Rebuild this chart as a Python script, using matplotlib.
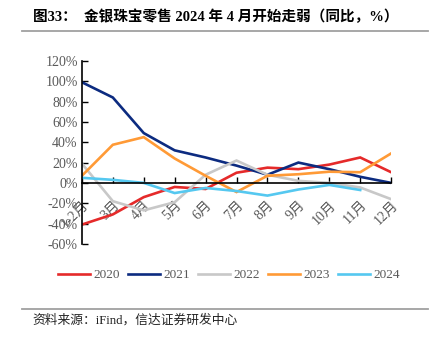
import matplotlib.pyplot as plt
from matplotlib.lines import Line2D

plt.rcParams['font.family'] = ['Liberation Serif', 'Noto Sans CJK SC']
plt.rcParams['axes.unicode_minus'] = False

# 金银珠宝零售额同比（%）
months = ['1-2月', '3月', '4月', '5月', '6月', '7月', '8月', '9月', '10月', '11月', '12月']
y2020 = [-41, -31, -14, -4, -6, 10, 15, 13.5, 18, 25, 10.5]
y2021 = [99, 84, 49, 32, 25, 17, 8, 20, 13.5, 6, 0]
y2022 = [19, -18, -27, -19, 8, 22, 8, 2, 0, -4.5, -16]
y2023 = [7, 37.5, 45, 24, 7, -9, 7, 8.5, 11, 10.5, 29]
y2024 = [5, 3, 0, -10, -5, -8, -12.5, -6.5, -2, -7]

series = [
    ('2020', y2020, '#E52A2A'),
    ('2021', y2021, '#0C2B80'),
    ('2022', y2022, '#C8C8C8'),
    ('2023', y2023, '#FF9A36'),
    ('2024', y2024, '#55C8F0'),
]

fig = plt.figure(figsize=(4.38, 3.44), dpi=100)
ax = fig.add_axes([0.187, 0.291, 0.706, 0.532])

for name, vals, color in series:
    ax.plot(range(len(vals)), vals, color=color, lw=1.9, label=name,
            solid_joinstyle='miter')

ax.set_xlim(0, len(months) - 1)
ax.set_ylim(-60, 120)
ax.set_yticks(range(-60, 121, 20))
ax.set_yticklabels([f'{v}%' for v in range(-60, 121, 20)])
ax.set_xticks(range(len(months)))
ax.set_xticklabels(months)

ax.spines['top'].set_visible(False)
ax.spines['right'].set_visible(False)
ax.spines['bottom'].set_position(('data', 0))
ax.spines['left'].set_linewidth(1.2)
ax.spines['bottom'].set_linewidth(1.2)
ax.tick_params(axis='y', direction='in', length=4, width=1, labelsize=10,
               labelcolor='#595959', pad=3)
ax.tick_params(axis='x', direction='in', length=4, width=1, labelsize=10,
               labelcolor='#595959', pad=11)
for lbl in ax.get_xticklabels():
    lbl.set_rotation(45)
    lbl.set_ha('right')
    lbl.set_rotation_mode('anchor')

handles = [Line2D([], [], color=c, lw=1.9) for _, _, c in series]
fig.legend(handles, [s[0] for s in series], loc='center', ncol=5,
           bbox_to_anchor=(0.523, 0.2), frameon=False, fontsize=9.5,
           handlelength=2.4, handletextpad=0.3, columnspacing=0.6,
           labelcolor='#595959')

# 标题与来源
fig.text(0.075, 0.95, '图33：  金银珠宝零售 2024 年 4 月开始走弱（同比，%）',
         fontsize=10.5, fontweight='bold', va='center', ha='left')
fig.add_artist(Line2D([0.05, 0.977], [0.91, 0.91], color='#A0A0A0', lw=1.3))
fig.add_artist(Line2D([0.05, 0.977], [0.103, 0.103], color='#A0A0A0', lw=1.3))
fig.text(0.075, 0.07, '资料来源：iFind，信达证券研发中心', fontsize=9.2,
         va='center', ha='left', color='#222222')

fig.savefig('out.png', dpi=100)
